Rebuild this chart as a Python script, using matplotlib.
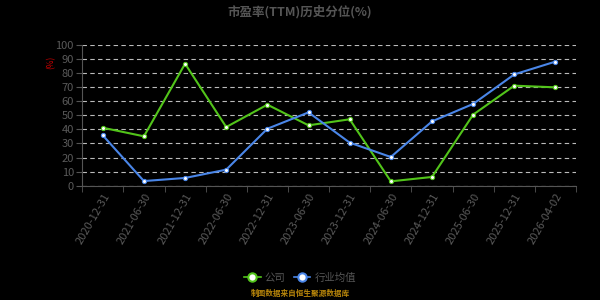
import matplotlib
matplotlib.use('Agg')
import matplotlib.pyplot as plt
from matplotlib.lines import Line2D

plt.rcParams['font.family'] = ['Noto Sans CJK SC', 'DejaVu Sans']

dates = ['2020-12-31', '2021-06-30', '2021-12-31', '2022-06-30', '2022-12-31', '2023-06-30',
         '2023-12-31', '2024-06-30', '2024-12-31', '2025-06-30', '2025-12-31', '2026-04-02']
company = [41.2, 35.1, 86.7, 41.7, 57.6, 42.9, 47.2, 3.1, 6.2, 50.5, 71.1, 69.9]
industry = [35.8, 3.3, 5.5, 11.4, 40.5, 52.1, 30.6, 20.4, 45.7, 58.1, 79.1, 88.2]
yticks = list(range(0, 101, 10))

green = '#52c41a'
blue = '#4a86e8'
bg = '#000000'

fig = plt.figure(figsize=(6, 3), dpi=100, facecolor=bg)
ax = fig.add_axes([0.137, 0.381, 0.823, 0.469], facecolor=bg)

x = list(range(len(dates)))
ax.plot(x, company, color=green, lw=1.5, marker='o', ms=3, mfc='white', mec=green, mew=0.8)
ax.plot(x, industry, color=blue, lw=1.5, marker='o', ms=3, mfc='white', mec=blue, mew=0.8)

ax.set_xlim(-0.5, len(dates) - 0.5)
ax.set_ylim(0, 100)
ax.set_yticks(yticks)
ax.set_xticks(x)
ax.set_xticklabels(dates, rotation=60, ha='right', rotation_mode='anchor')
ax.set_xticks([i - 0.5 for i in range(len(dates) + 1)], minor=True)
ax.tick_params(axis='x', which='major', length=0, colors='#5a5a5a', labelsize=8, pad=4)
ax.tick_params(axis='x', which='minor', length=4, color='#555555')
ax.tick_params(axis='y', length=4, color='#555555', colors='#5a5a5a', labelsize=8, pad=2)
ax.yaxis.grid(True, linestyle=(0, (4, 3)), color='#bbbbbb', lw=0.8)
ax.set_axisbelow(True)
for s in ['top', 'right']:
    ax.spines[s].set_visible(False)
for s in ['left', 'bottom']:
    ax.spines[s].set_color('#555555')

ax.set_ylabel('(%)', color='#cc0000', fontsize=6, labelpad=2)
ax.yaxis.set_label_coords(-0.055, 0.88)

fig.text(0.5, 0.96, '市盈率(TTM)历史分位(%)', ha='center', va='center',
         color='#555555', fontsize=9, fontweight='bold')

handles = [Line2D([], [], color=green, lw=1.2, marker='o', ms=6, mfc='white', mec=green, mew=1.5),
           Line2D([], [], color=blue, lw=1.2, marker='o', ms=6, mfc='white', mec=blue, mew=1.5)]
fig.legend(handles, ['公司', '行业均值'], loc='center', bbox_to_anchor=(0.5, 0.075), ncol=2,
           frameon=False, fontsize=7.5, labelcolor='#555555', handlelength=1.6,
           columnspacing=0.8, handletextpad=0.4)

fig.text(0.5, 0.023, '制图数据来自恒生聚源数据库', ha='center', va='center',
         color='#b8860b', fontsize=5.5, fontweight='bold')

fig.savefig('out.png', dpi=100, facecolor=bg)
